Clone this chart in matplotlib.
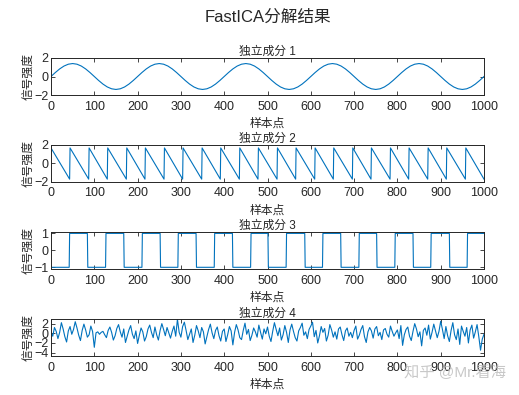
"""FastICA 分解结果：四个独立成分的时域波形（仿 MATLAB 风格）。"""
import matplotlib; matplotlib.use("Agg")
import matplotlib.pyplot as plt

plt.rcParams["font.family"] = ["Liberation Sans", "Noto Sans CJK SC", "DejaVu Sans"]

# ---- 数据----
# 成分1：正弦，每 10 个样本取一点
sine_x = list(range(0, 1001, 10))
sine_y = [0.00, 0.43, 0.82, 1.13, 1.33, 1.40, 1.33, 1.13, 0.82, 0.43,
          0.00, -0.43, -0.82, -1.13, -1.33, -1.40, -1.33, -1.13, -0.82, -0.43,
          0.00, 0.43, 0.82, 1.13, 1.33, 1.40, 1.33, 1.13, 0.82, 0.43,
          0.00, -0.43, -0.82, -1.13, -1.33, -1.40, -1.33, -1.13, -0.82, -0.43,
          0.00, 0.43, 0.82, 1.13, 1.33, 1.40, 1.33, 1.13, 0.82, 0.43,
          0.00, -0.43, -0.82, -1.13, -1.33, -1.40, -1.33, -1.13, -0.82, -0.43,
          0.00, 0.43, 0.82, 1.13, 1.33, 1.40, 1.33, 1.13, 0.82, 0.43,
          0.00, -0.43, -0.82, -1.13, -1.33, -1.40, -1.33, -1.13, -0.82, -0.43,
          0.00, 0.43, 0.82, 1.13, 1.33, 1.40, 1.33, 1.13, 0.82, 0.43,
          0.00, -0.43, -0.82, -1.13, -1.33, -1.40, -1.33, -1.13, -0.82, -0.43,
          0.00]

# 成分2：锯齿波，下落位置
saw_drops = [43, 87, 130, 174, 217, 261, 304, 348, 391, 435, 478, 522,
             565, 609, 652, 696, 739, 783, 826, 870, 913, 957, 1000]
saw_hi, saw_lo = 1.68, -1.72

# 成分3：方波，翻转位置（起始为 -1）
sq_switch = [42, 84, 126, 168, 210, 252, 293, 335, 377, 419, 461, 501,
             543, 586, 627, 669, 711, 752, 794, 836, 877, 920, 961]

# 成分4：噪声，每 4 个样本取一点
noise_x = list(range(0, 1001, 4))
noise_y = [0.3, -0.6, 1.2, 0.4, -1.1, 0.2, 2.2, 0.9, -0.7, -1.8, 0.5, 1.4, -0.2, 0.8, 2.4, 1.1, -0.4, -1.5, 0.6, 1.9, 0.7, -0.8, -0.3, 1.5, 0.4,
           -2.9, 0.1, 0.3, -0.2, 0.2, 0.4, -0.3, -0.9, 0.6, 1.3, 0.2, -1.4, -0.5, 1.0, 1.8, 0.3, -0.8, 0.9, -1.9, -0.6, 0.7, 1.6, -0.2, -1.1, 0.5,
           -2.1, -0.4, 1.1, 0.3, -1.6, -0.7, 0.9, 1.7, 0.2, -0.9, 1.3, -0.3, -1.4, 0.6, 2.0, 0.8, -0.5, 1.2, 0.1, -1.0, 0.4, 1.5, -0.6, 2.9, 0.2,
           -0.8, 1.4, 2.3, 0.6, -1.3, -0.2, 0.9, -1.9, -0.4, 1.6, 0.5, -0.9, 1.2, 0.3, -2.2, -0.7, 0.8, 1.9, 0.1, -1.1, 0.6, 1.3, -0.5, -1.6, 0.4,
           0.9, -1.7, -0.3, 1.4, 0.5, -2.4, 0.2, 1.8, 0.7, -0.9, -1.3, 0.6, 2.1, -0.2, 0.8, -1.5, -0.4, 1.1, 0.3, -0.8, 1.7, 0.2, -1.2, 0.9, -0.1,
           1.3, -0.6, -1.7, 0.4, 2.2, 0.8, -0.5, 1.1, -1.4, -0.3, 1.6, 0.2, -1.9, 0.7, 1.9, 0.4, -0.9, -1.6, 0.5, 1.2, 2.1, -0.4, 0.3, -1.1, 0.8,
           1.5, 2.3, -0.7, 0.6, -2.0, -0.5, 1.4, 0.2, 1.0, -1.6, -0.4, 1.8, 0.7, -0.8, 0.3, -1.2, 0.9, 1.3, -0.3, -1.5, 0.5, 1.1, -0.6, 0.2, -0.9,
           0.6, 1.5, -1.2, -0.4, 0.8, 1.6, -0.7, -1.9, 0.3, 1.2, 0.5, -1.0, 0.9, 1.4, -0.5, 0.2, -1.3, 0.7, 1.0, -0.2, -0.8, 1.5, 0.4, -0.6, 0.1,
           0.7, -1.1, 1.6, -2.5, -0.3, 0.8, 1.3, -0.6, -1.5, 0.4, 2.0, 0.9, -0.7, 0.3, -2.6, 0.6, 1.1, -0.4, 1.7, -1.2, 0.2, 1.9, 0.5, -0.9, 0.4,
           2.5, 0.8, -1.1, 1.4, -0.5, -1.7, 0.6, 2.2, -0.3, -1.3, 0.9, -2.3, 1.5, 0.4, -0.6, 1.2, -2.0, 0.7, 1.7, -1.0, 0.3, 1.8, -0.7, -3.5, -1.2,
           -0.2]

titles = ["独立成分 1", "独立成分 2", "独立成分 3", "独立成分 4"]
yticks = [[-2, 0, 2], [-2, 0, 2], [-1, 0, 1], [-4, -2, 0, 2]]
ylims = [(-2, 2), (-2, 2), (-1.1, 1.1), (-4.7, 2.9)]

# 锯齿 / 方波折线顶点
saw_x, saw_y = [0], [saw_hi]
for i, d in enumerate(saw_drops):
    saw_x.append(d); saw_y.append(saw_lo)
    if i < len(saw_drops) - 1:
        saw_x.append(d + 1); saw_y.append(saw_hi)
sq_x, sq_y = [0], [-1]
lvl = -1
for s in sq_switch:
    sq_x.append(s); sq_y.append(lvl)
    lvl = -lvl
    sq_x.append(s + 1); sq_y.append(lvl)
sq_x.append(1000); sq_y.append(lvl)

series = [(sine_x, sine_y), (saw_x, saw_y), (sq_x, sq_y), (noise_x, noise_y)]

W, H = 519, 395
fig = plt.figure(figsize=(W / 100, H / 100), dpi=100)
boxes = [(58, 95), (145, 181.7), (231.7, 269), (319.3, 356)]  # 像素 上/下
for k, (top, bot) in enumerate(boxes):
    ax = fig.add_axes([51 / W, (H - bot) / H, 433 / W, (bot - top) / H])
    xs, ys = series[k]
    ax.plot(xs, ys, color="#0072BD", lw=0.8)
    ax.set_xlim(0, 1000); ax.set_ylim(*ylims[k])
    ax.set_xticks(range(0, 1001, 100)); ax.set_yticks(yticks[k])
    ax.tick_params(direction="in", top=True, right=True, labelsize=9,
                   length=3, width=0.6, colors="#262626")
    ax.tick_params(axis="x", pad=4)
    ax.tick_params(axis="y", pad=2)
    for sp in ax.spines.values():
        sp.set_linewidth(0.7); sp.set_color("#262626")
    ax.set_title(titles[k], fontsize=8.5, pad=2, color="#262626")
    ax.set_xlabel("样本点", fontsize=8.5, labelpad=4, color="#262626")
    ax.set_ylabel("信号强度", fontsize=8.5, color="#262626")
    ax.yaxis.set_label_coords(-0.039, 0.5)

fig.text(268 / W, 1 - 17 / H, "FastICA分解结果", ha="center", va="center",
         fontsize=12, color="#262626")
fig.text(455 / W, 1 - 372 / H, "知乎 @Mr.看海", ha="center", va="center",
         fontsize=11, color="#bbbbbb", alpha=0.8)

fig.savefig("out.png", dpi=100)
